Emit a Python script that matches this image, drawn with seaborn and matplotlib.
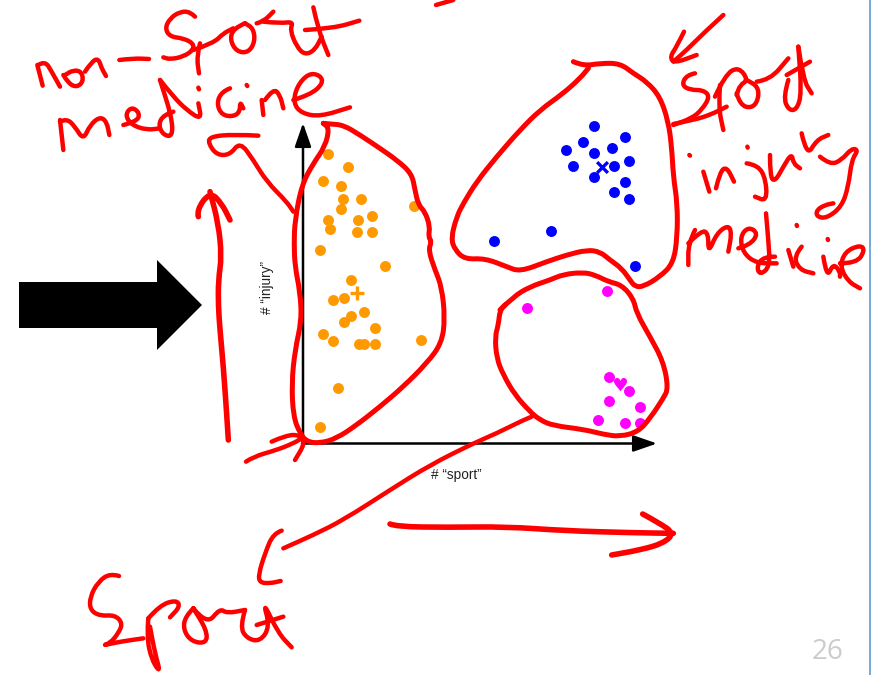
import matplotlib
matplotlib.use('Agg')
import matplotlib.pyplot as plt
from matplotlib.patches import PathPatch
from matplotlib.path import Path
import seaborn as sns

# dots, in slide pixels
orange_x = [327.7, 348, 322.7, 341.3, 343.3, 361.3, 341.3, 372, 327.7, 358.3, 330.3, 357, 372, 414, 320, 385,
            351.3, 333.3, 344, 364.3, 351.3, 344, 375, 322.7, 333.3, 359.3, 364.3, 375, 420.7, 338.3, 320]
orange_y = [153.7, 167.3, 181.3, 186, 199.3, 199.3, 209.3, 215.7, 219.7, 219.7, 228.7, 231.7, 231.7, 206, 250.3, 265.7,
            280.3, 300, 298.3, 312, 316, 321.7, 328, 334, 341.3, 344, 344, 344, 340.3, 388, 426.7]
blue_x = [593.7, 624.7, 583, 566.3, 612, 593.7, 629.3, 573.3, 614, 593.7, 624.7, 614, 629.3, 551.3, 493.7, 635.3]
blue_y = [126.3, 137, 142.3, 150.3, 147.7, 153, 161, 166, 166, 176.7, 181.7, 192.3, 199.3, 230.7, 241.3, 266]
magenta_x = [606.7, 526.7, 609, 629.3, 609, 640, 598.3, 624.7, 640]
magenta_y = [291, 308.3, 377.3, 391, 401, 407, 420.3, 423, 422.7]
centroid_x = [357, 602.3, 619.7]
centroid_y = [293.3, 167.3, 384]

blob_strokes = [
    (280, 110, [(130, 40), (150, 42), (190, 45), (240, 75), (300, 115), (350, 150), (395, 190), (405, 240), (415, 285),
                (435, 305), (450, 350), (445, 380), (455, 395), (445, 420), (465, 480), (485, 530), (495, 625),
                (485, 700), (440, 760), (370, 830), (300, 890), (230, 945), (170, 985), (120, 1000), (80, 995),
                (60, 970), (40, 920), (35, 820), (45, 720), (65, 630), (60, 545), (45, 470), (42, 400), (45, 330),
                (65, 225), (100, 160), (135, 110), (148, 55), (130, 40)]),
    (440, 50, [(400, 35), (430, 48), (480, 40), (540, 40), (580, 70), (620, 95), (660, 140), (685, 215), (695, 290),
               (700, 380), (712, 460), (712, 560), (700, 640), (660, 680), (610, 710), (585, 710), (570, 690),
               (545, 655), (510, 630), (480, 605), (440, 600), (380, 615), (320, 635), (240, 665), (200, 650),
               (135, 625), (75, 628), (45, 600), (33, 565), (50, 500), (70, 460), (110, 395), (170, 320), (240, 240),
               (300, 180), (370, 130), (420, 85), (445, 55)]),
    (480, 265, [(60, 135), (100, 95), (150, 65), (210, 45), (250, 28), (310, 22), (345, 30), (385, 50), (425, 60),
                (460, 100), (470, 145), (510, 215), (550, 290), (565, 370), (550, 400), (510, 460), (475, 500),
                (420, 515), (370, 508), (310, 493), (220, 482), (180, 465), (150, 440), (105, 390), (70, 330),
                (50, 280), (45, 215), (55, 180), (60, 135), (75, 120)]),
]
thin_strokes = [
    # pointer from the sport blob down to the word
    (230, 420, [(905, -10), (880, 0), (800, 40), (730, 70), (600, 135), (480, 210), (340, 300), (250, 345), (160, 385)]),
    (70, 510, [(635, 62), (610, 70), (585, 130), (565, 195), (570, 218), (600, 220), (632, 213)]),
    # non-sport pointer
    (0, 0, [(775, 407), (700, 403), (630, 410), (625, 430), (650, 465), (690, 465), (720, 425), (760, 480), (800, 545),
            (860, 605), (880, 635)]),
    # non-
    (0, 0, [(112, 195), (128, 257)]),
    (0, 0, [(115, 195), (135, 182), (155, 215), (180, 260)]),
    (0, 0, [(190, 225), (205, 250), (230, 262), (250, 245), (245, 215), (220, 210), (195, 225)]),
    (0, 0, [(255, 215), (275, 185), (295, 175), (305, 205), (318, 228)]),
    (0, 0, [(358, 180), (400, 175), (447, 177)]),
    # Sport
    (0, 0, [(585, 50), (570, 35), (540, 35), (510, 55), (495, 85), (510, 110), (550, 115), (580, 130), (580, 150),
            (550, 170), (510, 178), (490, 172)]),
    (0, 0, [(600, 130), (590, 170), (597, 220)]),
    (0, 0, [(580, 150), (640, 130), (670, 100), (700, 85)]),
    (0, 0, [(735, 70), (700, 85), (690, 120), (710, 155), (745, 158), (765, 125), (760, 85), (735, 70)]),
    (0, 0, [(770, 70), (790, 65), (820, 35)]),
    (0, 0, [(790, 65), (840, 70), (880, 65), (870, 90), (890, 140), (915, 165), (945, 150), (965, 110)]),
    (0, 0, [(940, 22), (955, 90), (985, 165)]),
    (0, 0, [(915, 90), (1000, 85), (1078, 62)]),
    # medicine
    (0, 0, [(180, 360), (190, 450)]),
    (0, 0, [(180, 365), (200, 355), (225, 380), (250, 420), (270, 375), (300, 350), (320, 365), (328, 405)]),
    (0, 0, [(370, 375), (410, 365), (420, 340), (395, 320), (375, 345), (395, 375), (440, 390), (480, 385)]),
    (0, 0, [(520, 335), (490, 345), (475, 375), (490, 405), (518, 410), (515, 350), (480, 240)]),
    (0, 0, [(480, 240), (520, 290), (560, 330), (605, 360), (595, 310)]),
    (0, 0, [(690, 265), (665, 275), (650, 310), (665, 345), (700, 350), (720, 335), (720, 305), (730, 325)]),
    (0, 0, [(785, 300), (790, 345)]),
    (0, 0, [(795, 300), (820, 265), (840, 285), (850, 325)]),
    (0, 0, [(880, 300), (930, 285), (970, 250), (960, 225), (925, 220), (890, 260), (880, 310), (905, 340), (960, 350),
            (1050, 322)]),
    (0, 0, [(595, 263), (597, 268)]),
    (0, 0, [(740, 255), (742, 258)]),
    # arrow at the top right
    (660, 0, [(190, 45), (130, 100), (80, 150), (40, 185)]),
    (660, 0, [(72, 95), (50, 140), (30, 170), (42, 190), (110, 165)]),
    # Sport, right
    (660, 0, [(105, 220), (80, 225), (65, 255), (90, 270), (130, 270), (150, 290), (125, 330), (95, 355), (40, 375)]),
    (660, 0, [(40, 372), (100, 360), (150, 345), (200, 320)]),
    (660, 0, [(180, 255), (175, 320), (190, 390)]),
    (660, 0, [(165, 290), (195, 225), (235, 200), (265, 240), (240, 255), (230, 285)]),
    (660, 0, [(230, 280), (240, 315), (275, 325), (295, 300), (295, 260), (260, 240)]),
    (660, 0, [(290, 245), (330, 240), (385, 175)]),
    (660, 0, [(385, 240), (370, 290), (385, 330), (410, 330), (425, 280), (415, 140)]),
    (660, 0, [(415, 140), (430, 240), (455, 280)]),
    (660, 0, [(380, 225), (450, 185)]),
    # injury
    (660, 0, [(88, 465), (90, 467)]),
    (660, 0, [(130, 515), (148, 575)]),
    (660, 0, [(168, 565), (180, 515), (200, 500), (222, 545)]),
    (660, 0, [(262, 440), (263, 443)]),
    (660, 0, [(260, 490), (295, 495), (318, 540), (320, 604), (285, 590)]),
    (660, 0, [(330, 465), (330, 530), (345, 545), (370, 500), (395, 460), (400, 490), (420, 505)]),
    (660, 0, [(425, 400), (440, 470), (470, 420), (505, 405)]),
    (660, 0, [(480, 470), (510, 495), (545, 480), (575, 445), (595, 450), (575, 480), (565, 560), (545, 620), (500, 655),
              (470, 650), (470, 630), (495, 615), (520, 610)]),
    # medicine, right
    (660, 0, [(105, 690), (85, 730), (85, 795)]),
    (660, 0, [(85, 730), (125, 690), (145, 700), (145, 760), (170, 700), (205, 675), (215, 700), (205, 755)]),
    (660, 0, [(235, 745), (270, 735), (295, 700), (265, 680), (240, 710), (250, 760), (290, 790), (350, 790)]),
    (660, 0, [(345, 770), (310, 770), (290, 800), (300, 825), (330, 800), (325, 720), (318, 640)]),
    (660, 0, [(410, 675), (411, 678)]),
    (660, 0, [(385, 750), (400, 800)]),
    (660, 0, [(425, 740), (400, 770), (420, 810), (460, 820)]),
    (660, 0, [(490, 770), (500, 835), (520, 790), (540, 815), (540, 830)]),
    (660, 0, [(503, 717), (504, 720)]),
    (660, 0, [(540, 790), (590, 790), (615, 750), (600, 735), (555, 755), (540, 800), (565, 845), (600, 865)]),
    # Sport, bottom
    (70, 510, [(147, 198), (120, 190), (85, 215), (60, 260), (60, 300), (90, 318), (135, 315), (158, 340), (145, 370),
               (120, 400), (95, 407), (150, 395), (220, 385)]),
    (70, 510, [(235, 325), (230, 380), (245, 450), (272, 490), (255, 430), (240, 350)]),
    (70, 510, [(235, 325), (270, 285), (320, 270), (330, 290), (300, 322)]),
    (70, 510, [(370, 295), (345, 320), (340, 360), (365, 395), (410, 400), (410, 360), (370, 295)]),
    (70, 510, [(370, 295), (410, 345), (450, 295), (470, 310), (525, 300)]),
    (70, 510, [(525, 300), (510, 350), (530, 385), (570, 395), (600, 350), (578, 272), (625, 370), (665, 412)]),
    (70, 510, [(560, 345), (640, 320)]),
    # bit of a stroke cut by the top edge
    (400, 0, [(108, 15), (160, 0)]),
    # arrow at the origin
    (0, 180, [(738, 845), (760, 830), (830, 810), (880, 790), (905, 775)]),
    (0, 180, [(815, 785), (860, 765), (900, 765), (915, 790), (885, 840)]),
]
thick_strokes = [
    (0, 180, [(685, 780), (680, 700), (670, 560), (660, 450), (655, 380), (655, 300), (665, 230), (655, 130), (630, 35)]),
    (0, 180, [(595, 110), (590, 90), (630, 35), (665, 70), (690, 120)]),
    (230, 420, [(480, 312), (500, 320), (650, 322), (830, 320), (1000, 332), (1200, 338), (1330, 340)]),
    (230, 420, [(1238, 282), (1290, 310), (1332, 340), (1300, 370), (1230, 390), (1145, 405)]),
]
block_arrow_x = [19, 157, 157, 202, 157, 157, 19]
block_arrow_y = [282, 282, 260, 305, 350, 328, 328]

sns.set_theme(style='white')
plt.rcParams['font.family'] = ['Liberation Sans', 'DejaVu Sans']

fig = plt.figure(figsize=(8.8, 6.75), dpi=100)
ax = fig.add_axes([0, 0, 1, 1])
ax.set_xlim(0, 880)
ax.set_ylim(675, 0)


def draw_strokes(strokes, width):
    # points act as bezier controls so the pen looks round, not angular
    for left, top, points in strokes:
        pts = [(left + p[0] / 3, top + p[1] / 3) for p in points]
        verts = [pts[0]]
        codes = [Path.MOVETO]
        for a, b in zip(pts[1:-1], pts[2:]):
            verts += [a, ((a[0] + b[0]) / 2, (a[1] + b[1]) / 2)]
            codes += [Path.CURVE3, Path.CURVE3]
        verts.append(pts[-1])
        codes.append(Path.LINETO)
        ax.add_patch(PathPatch(Path(verts, codes), facecolor='none', edgecolor='#ff0000', linewidth=width, zorder=5,
                               capstyle='round', joinstyle='round'))


# slide edge and page number
ax.axvline(870, color='#5b9bd5', linewidth=1.2)
ax.text(827.5, 652, '26', family='Open Sans', fontsize=20, color='#cccccc', ha='center', va='center')

# plot axes
arrow_style = '-|>,head_length=1.44,head_width=0.5'
ax.annotate('', xy=(303, 123), xytext=(303, 444), arrowprops=dict(arrowstyle=arrow_style, mutation_scale=10, lw=1.8,
                                                                  color='black', shrinkA=0, shrinkB=0))
ax.annotate('', xy=(657, 443.5), xytext=(302, 443.5), arrowprops=dict(arrowstyle=arrow_style, mutation_scale=10, lw=1.8,
                                                                      color='black', shrinkA=0, shrinkB=0))
ax.text(456.5, 475, '# \u201csport\u201d', fontsize=9.8, color='#222222', ha='center', va='center')
ax.text(266.5, 287.5, '# \u201cinjury\u201d', fontsize=9.8, color='#222222', ha='center', va='center', rotation=90)

# clusters
sns.scatterplot(x=orange_x, y=orange_y, color='#ff9900', s=62, linewidth=0, ax=ax, zorder=3)
sns.scatterplot(x=blue_x, y=blue_y, color='#0000ff', s=62, linewidth=0, ax=ax, zorder=3)
sns.scatterplot(x=magenta_x, y=magenta_y, color='#ff00ff', s=62, linewidth=0, ax=ax, zorder=3)
sns.scatterplot(x=centroid_x[:1], y=centroid_y[:1], color='#ff9900', marker='+', s=95, linewidth=2.4, ax=ax, zorder=3)
sns.scatterplot(x=centroid_x[1:2], y=centroid_y[1:2], color='#0000ff', marker='x', s=60, linewidth=2.4, ax=ax, zorder=3)
sns.scatterplot(x=centroid_x[2:], y=centroid_y[2:], color='#ff00ff', marker='$\u2665$', s=90, linewidth=0, ax=ax, zorder=3)

ax.fill(block_arrow_x, block_arrow_y, color='black', linewidth=0)

draw_strokes(blob_strokes, 3.6)
draw_strokes(thin_strokes, 3.2)
draw_strokes(thick_strokes, 4.0)

ax.set_axis_off()
fig.savefig('out.png', dpi=100, facecolor='white')
